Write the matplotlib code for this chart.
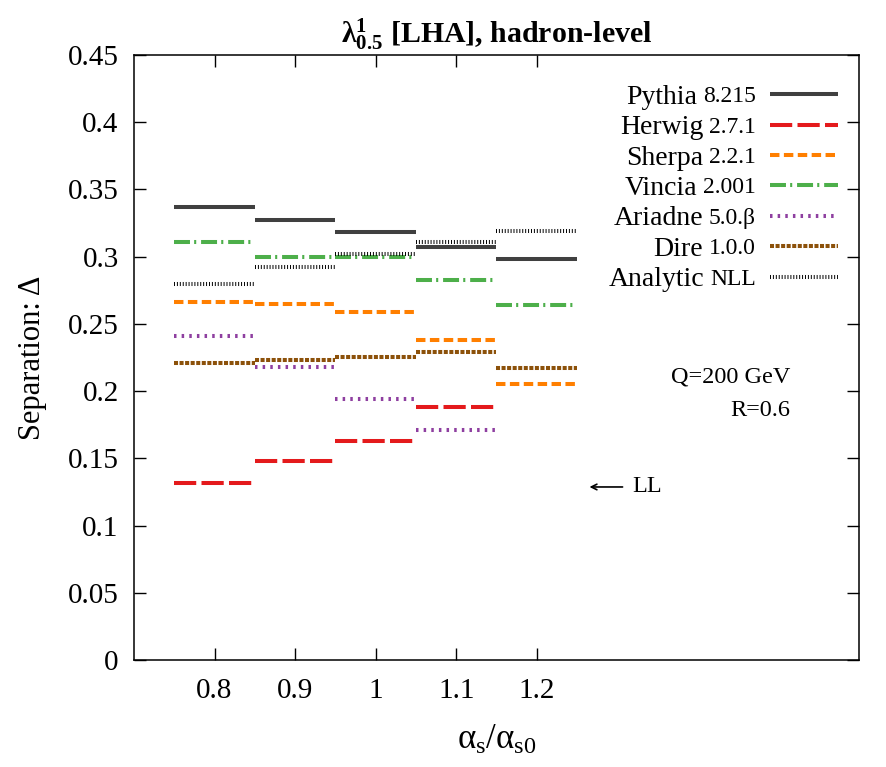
import matplotlib
matplotlib.use("Agg")
import matplotlib.pyplot as plt

plt.rcParams['font.family'] = ['Liberation Serif', 'DejaVu Serif']
plt.rcParams['mathtext.fontset'] = 'custom'
plt.rcParams['mathtext.rm'] = 'Liberation Serif'
plt.rcParams['mathtext.it'] = 'Liberation Serif:italic'
plt.rcParams['mathtext.bf'] = 'Liberation Serif:bold'
plt.rcParams['lines.scale_dashes'] = False

# alpha_s / alpha_s0 points
x_vals = [0.8, 0.9, 1.0, 1.1, 1.2]
x_ticklabels = ["0.8", "0.9", "1", "1.1", "1.2"]
y_ticks = [0, 0.05, 0.1, 0.15, 0.2, 0.25, 0.3, 0.35, 0.4, 0.45]
y_ticklabels = ["0", "0.05", "0.1", "0.15", "0.2", "0.25", "0.3", "0.35", "0.4", "0.45"]

# separation values per generator (None = not shown)
pythia = [0.337, 0.327, 0.318, 0.307, 0.298]
herwig = [0.132, 0.148, 0.163, 0.188, None]
sherpa = [0.266, 0.265, 0.259, 0.238, 0.205]
vincia = [0.311, 0.300, 0.300, 0.283, 0.264]
ariadne = [0.241, 0.218, 0.194, 0.171, None]
dire = [0.221, 0.223, 0.225, 0.229, 0.217]
analytic = [0.280, 0.292, 0.302, 0.311, 0.319]

names = ["Pythia", "Herwig", "Sherpa", "Vincia", "Ariadne", "Dire", "Analytic"]
versions = ["8.215", "2.7.1", "2.2.1", "2.001", "5.0.β", "1.0.0", "NLL"]
series = [pythia, herwig, sherpa, vincia, ariadne, dire, analytic]

styles = [
    dict(color='#404040', ls='-'),
    dict(color='#e41a1c', ls=(0, (16, 3.8))),
    dict(color='#ff7f00', ls=(0, (6.8, 3.2))),
    dict(color='#4daf4a', ls=(0, (11.5, 3, 1.5, 3.5))),
    dict(color='#8e3fa0', ls=(0, (1.8, 3.7))),
    dict(color='#8c510a', ls=(0, (2.9, 1.1))),
    dict(color='black', ls=(0, (0.7, 1.4))),
]
lw = 2.9

fig = plt.figure(figsize=(8.86, 7.67), dpi=100)
ax = fig.add_axes([0.1512, 0.1395, 0.8183, 0.7888])

half = 0.05
for vals, st in zip(series, styles):
    for xv, yv in zip(x_vals, vals):
        if yv is None:
            continue
        ax.plot([xv - half, xv + half], [yv, yv], color=st['color'],
                linestyle=st['ls'], lw=lw, solid_capstyle='butt',
                dash_capstyle='butt')

ax.set_xlim(0.7, 1.6)
ax.set_ylim(0, 0.45)
ax.set_xticks(x_vals)
ax.set_xticklabels(x_ticklabels)
ax.set_yticks(y_ticks)
ax.set_yticklabels(y_ticklabels)
ax.tick_params(direction='in', length=8.5, width=1, top=True, right=True,
               labelsize=21)
ax.tick_params(axis='x', pad=13)
ax.tick_params(axis='y', pad=11)
for sp in ax.spines.values():
    sp.set_linewidth(1.1)

ax.set_xlabel(r'$\mathrm{\alpha_{s}/\alpha_{s0}}$', fontsize=25)
ax.xaxis.set_label_coords(0.5, -0.105)
ax.set_ylabel('Separation: Δ', fontsize=22)
ax.yaxis.set_label_coords(-0.12, 0.5)
ax.set_title(r'$\mathbf{λ^{1}_{0.5}}$ [LHA], hadron-level', fontsize=21.5,
             fontweight='bold', pad=9)

# legend drawn by hand (name + smaller version, right aligned)
fig.canvas.draw()
renderer = fig.canvas.get_renderer()
row0 = 0.9355
dy = 0.0504
for i, (nm, ver, st) in enumerate(zip(names, versions, styles)):
    yy = row0 - i * dy
    ax.plot([0.877, 0.971], [yy, yy], transform=ax.transAxes,
            color=st['color'], linestyle=st['ls'], lw=lw,
            solid_capstyle='butt', dash_capstyle='butt', clip_on=False)
    t = ax.text(0.858, yy, ver, transform=ax.transAxes, ha='right',
                va='center_baseline', fontsize=17)
    bb = t.get_window_extent(renderer)
    xl = ax.transAxes.inverted().transform((bb.x0 - 6, bb.y0))[0]
    ax.text(xl, yy, nm, transform=ax.transAxes, ha='right',
            va='center_baseline', fontsize=20)

ax.text(0.905, 0.468, 'Q=200 GeV', transform=ax.transAxes, ha='right',
        va='center', fontsize=17.5)
ax.text(0.905, 0.413, 'R=0.6', transform=ax.transAxes, ha='right',
        va='center', fontsize=17.5)

ax.annotate('', xy=(1.262, 0.1287), xytext=(1.31, 0.1287),
            arrowprops=dict(arrowstyle='->', lw=1.2, color='black'))
ax.text(1.318, 0.1287, 'LL', ha='left', va='center', fontsize=17.5)

fig.savefig('out.png', dpi=100)
